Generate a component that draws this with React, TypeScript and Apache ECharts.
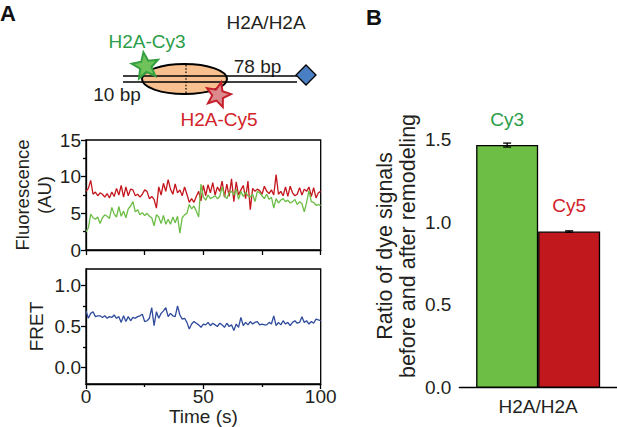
import React, { useEffect, useRef } from "react";
import * as echarts from "echarts";

// ---------- data ----------
const TIME_STEP = 1; // seconds per frame
const cy3Trace = [
  2.5, 3.0, 4.9, 4.4, 4.2, 4.5, 3.6, 4.4, 4.8, 4.6, 4.3, 5.8, 4.9, 4.5, 5.9, 4.6,
  5.3, 4.4, 5.6, 6.0, 6.6, 5.2, 5.5, 4.8, 5.1, 4.7, 5.0, 4.6, 4.4, 3.3, 4.8, 4.5,
  3.6, 4.7, 3.5, 4.2, 3.5, 4.5, 3.7, 4.6, 2.3, 4.4, 4.8, 5.0, 6.2, 5.6, 6.0, 5.3,
  4.5, 9.0, 7.2, 6.8, 7.5, 7.0, 7.2, 7.4, 7.0, 7.3, 8.6, 7.4, 7.0, 7.8, 8.0, 7.5,
  8.3, 6.9, 8.0, 7.3, 7.9, 7.4, 7.2, 7.6, 6.6, 8.0, 7.8, 7.4, 7.0, 7.6, 6.9, 7.2,
  5.7, 7.0, 6.4, 6.8, 7.0, 6.6, 6.8, 6.4, 6.6, 6.9, 6.2, 6.6, 6.3, 5.2, 6.5, 8.1,
  6.6, 6.5, 6.1, 6.2, 6.1,
];
const cy5Trace = [
  8.0, 8.4, 9.5, 7.6, 7.9, 7.4, 7.8, 7.6, 7.2, 7.7, 7.1, 7.9, 7.3, 8.4, 7.5, 8.8,
  7.2, 8.6, 7.4, 8.3, 8.2, 7.4, 7.6, 7.2, 7.6, 8.2, 8.0, 7.0, 7.3, 6.9, 5.7, 8.6,
  7.5, 9.1, 8.0, 9.6, 8.3, 7.6, 9.0, 7.8, 8.2, 7.4, 8.6, 7.6, 6.5, 7.0, 6.5, 7.3,
  8.0, 6.7, 8.8, 7.4, 8.9, 7.8, 9.2, 7.5, 8.6, 8.0, 9.4, 7.2, 9.0, 7.3, 9.7, 6.6,
  9.3, 7.5, 8.2, 8.8, 7.0, 9.4, 5.5, 8.4, 8.0, 8.3, 8.1, 7.6, 8.7, 8.0, 7.7, 8.2,
  7.5, 10.3, 7.6, 8.0, 7.4, 8.6, 7.3, 8.7, 7.8, 7.4, 7.6, 8.5, 7.5, 8.3, 8.0, 8.6,
  7.3, 8.5, 7.1, 7.8, 8.0,
];
const fretTrace = [
  0.69, 0.6, 0.66, 0.68, 0.62, 0.63, 0.63, 0.61, 0.63, 0.6, 0.62, 0.61, 0.64, 0.6,
  0.62, 0.55, 0.63, 0.56, 0.62, 0.57, 0.61, 0.6, 0.62, 0.63, 0.65, 0.56, 0.57, 0.6,
  0.73, 0.51, 0.68, 0.6, 0.66, 0.69, 0.73, 0.62, 0.66, 0.63, 0.62, 0.75, 0.64, 0.59,
  0.6, 0.55, 0.47, 0.53, 0.56, 0.54, 0.52, 0.49, 0.53, 0.52, 0.55, 0.51, 0.54, 0.52,
  0.5, 0.54, 0.52, 0.49, 0.54, 0.5, 0.52, 0.45, 0.53, 0.49, 0.61, 0.51, 0.55, 0.52,
  0.56, 0.53, 0.55, 0.56, 0.52, 0.53, 0.52, 0.52, 0.55, 0.53, 0.63, 0.51, 0.55, 0.52,
  0.57, 0.53, 0.55, 0.51, 0.55, 0.57, 0.54, 0.55, 0.62, 0.55, 0.57, 0.53, 0.56, 0.54,
  0.59, 0.58, 0.57,
];
const barCategories = ["H2A/H2A"];
const cy3Ratio = [1.465];
const cy3RatioErr = [0.012];
const cy5Ratio = [0.943];
const cy5RatioErr = [0.004];
const fluorTicks = [0, 5, 10, 15];
const fretTicks = [0, 0.5, 1.0];
const fretMinorTicks = [0.25, 0.75];
const ratioTicks = [0, 0.5, 1.0, 1.5];
const ratioMinorTicks = [0.25, 0.75, 1.25];

// ---------- style ----------
const FONT = "'Liberation Sans', Arial, sans-serif";
const TXT = "#231f20";
const GREEN_LINE = "#6cbd45";
const RED_LINE = "#c4161c";
const BLUE_LINE = "#2f4b9c";
const GREEN_BAR = "#6cbe45";
const RED_BAR = "#c1181e";
const GREEN_TXT = "#2a9d48";
const RED_TXT = "#d2232a";

function starPoints(cx: number, cy: number, R: number, r: number, rot: number) {
  const pts: number[][] = [];
  for (let i = 0; i < 10; i++) {
    const a = rot - Math.PI / 2 + (i * Math.PI) / 5;
    const rad = i % 2 === 0 ? R : r;
    pts.push([cx + rad * Math.cos(a), cy + rad * Math.sin(a)]);
  }
  return pts;
}

const axisLineStyle = { color: "#000", width: 1.3 };
const labelStyle = { color: TXT, fontSize: 19, fontFamily: FONT };

export default function App() {
  const ref = useRef<HTMLDivElement>(null);
  useEffect(() => {
    document.body.style.margin = "0";
    if (!ref.current) return;
    const chart = echarts.init(ref.current, null, { renderer: "svg" });
    const pair = (arr: number[]) => arr.map((v, i) => [i * TIME_STEP, v]);

    const errRender = (offset: number) => (params: any, api: any) => {
      const v = api.value(1);
      const e = api.value(2);
      const c = api.coord([api.value(0), v]);
      const hi = api.coord([api.value(0), v + e]);
      const lo = api.coord([api.value(0), v - e]);
      const x = c[0] + offset;
      const st = { stroke: "#000", lineWidth: 1.3 };
      return {
        type: "group",
        children: [
          { type: "line", shape: { x1: x, y1: hi[1], x2: x, y2: lo[1] }, style: st },
          { type: "line", shape: { x1: x - 4, y1: hi[1], x2: x + 4, y2: hi[1] }, style: st },
          { type: "line", shape: { x1: x - 4, y1: lo[1], x2: x + 4, y2: lo[1] }, style: st },
        ],
      };
    };

    const option: any = {
      animation: false,
      textStyle: { fontFamily: FONT },
      grid: [
        { left: 86, top: 140, width: 234.7, height: 110, show: true, borderColor: "#000", borderWidth: 1.3, backgroundColor: "transparent" },
        { left: 86, top: 269, width: 234.7, height: 115, show: true, borderColor: "#000", borderWidth: 1.3, backgroundColor: "transparent" },
        { left: 459.3, top: 122.7, width: 157.7, height: 265 },
      ],
      xAxis: [
        {
          gridIndex: 0, type: "value", min: 0, max: 100, interval: 50,
          axisLine: { onZero: false, lineStyle: axisLineStyle },
          axisTick: { length: 5, lineStyle: axisLineStyle },
          minorTick: { show: true, splitNumber: 2, length: 5, lineStyle: axisLineStyle },
          axisLabel: { show: false }, splitLine: { show: false },
        },
        {
          gridIndex: 1, type: "value", min: 0, max: 100, interval: 50,
          axisLine: { onZero: false, lineStyle: axisLineStyle },
          axisTick: { length: 5, lineStyle: axisLineStyle },
          minorTick: { show: true, splitNumber: 2, length: 3, lineStyle: axisLineStyle },
          axisLabel: { ...labelStyle, margin: 3 },
          splitLine: { show: false },
          name: "Time (s)", nameLocation: "middle", nameGap: 11,
          nameTextStyle: { ...labelStyle },
        },
        {
          gridIndex: 2, type: "category", data: barCategories,
          axisLine: { onZero: false, lineStyle: axisLineStyle },
          axisTick: { alignWithLabel: true, length: 5, lineStyle: axisLineStyle },
          axisLabel: { ...labelStyle, margin: 9 },
        },
      ],
      yAxis: [
        {
          gridIndex: 0, type: "value", min: 0, max: 15, interval: 5, position: "left",
          axisLine: { onZero: false, lineStyle: axisLineStyle },
          axisTick: { length: 5, lineStyle: axisLineStyle, customValues: fluorTicks },
          minorTick: { show: true, splitNumber: 2, length: 3, lineStyle: axisLineStyle },
          axisLabel: { ...labelStyle, margin: 5, customValues: fluorTicks },
          splitLine: { show: false },
          name: "Fluorescence\n(AU)", nameLocation: "middle", nameGap: 29,
          nameTextStyle: { ...labelStyle, fontSize: 18.5, lineHeight: 22 },
        },
        {
          gridIndex: 1, type: "value", min: -0.2, max: 1.2, position: "left",
          axisLine: { onZero: false, lineStyle: axisLineStyle },
          axisTick: { length: 5, lineStyle: axisLineStyle, customValues: fretTicks },
          axisLabel: { ...labelStyle, margin: 5, customValues: fretTicks, formatter: (v: number) => v.toFixed(1) },
          splitLine: { show: false },
          name: "FRET", nameLocation: "middle", nameGap: 40,
          nameTextStyle: { ...labelStyle },
        },
        {
          gridIndex: 1, type: "value", min: -0.2, max: 1.2, position: "left",
          axisLine: { show: false, onZero: false },
          axisTick: { length: 3, lineStyle: axisLineStyle, customValues: fretMinorTicks },
          axisLabel: { show: false }, splitLine: { show: false },
        },
        {
          gridIndex: 2, type: "value", min: 0, max: 1.6, position: "left",
          axisLine: { onZero: false, lineStyle: axisLineStyle },
          axisTick: { length: 5, lineStyle: axisLineStyle, customValues: ratioTicks },
          axisLabel: { ...labelStyle, margin: 8, customValues: ratioTicks, formatter: (v: number) => v.toFixed(1) },
          splitLine: { show: false },
        },
        {
          gridIndex: 2, type: "value", min: 0, max: 1.6, position: "left",
          axisLine: { show: false, onZero: false },
          axisTick: { length: 3, lineStyle: axisLineStyle, customValues: ratioMinorTicks },
          axisLabel: { show: false }, splitLine: { show: false },
        },
      ],
      series: [
        { type: "line", xAxisIndex: 0, yAxisIndex: 0, data: pair(cy5Trace), showSymbol: false, lineStyle: { color: RED_LINE, width: 1.3 }, z: 2 },
        { type: "line", xAxisIndex: 0, yAxisIndex: 0, data: pair(cy3Trace), showSymbol: false, lineStyle: { color: GREEN_LINE, width: 1.3 }, z: 3 },
        { type: "line", xAxisIndex: 1, yAxisIndex: 1, data: pair(fretTrace), showSymbol: false, lineStyle: { color: BLUE_LINE, width: 1.3 } },
        {
          type: "bar", xAxisIndex: 2, yAxisIndex: 3, data: cy3Ratio, barWidth: 62, barGap: "0%",
          itemStyle: { color: GREEN_BAR, borderColor: "#000", borderWidth: 1.3 },
          label: { show: true, position: "top", distance: 16, formatter: "Cy3", color: GREEN_TXT, fontSize: 19, fontFamily: FONT },
        },
        {
          type: "bar", xAxisIndex: 2, yAxisIndex: 3, data: cy5Ratio, barWidth: 62, barGap: "0%",
          itemStyle: { color: RED_BAR, borderColor: "#000", borderWidth: 1.3 },
          label: { show: true, position: "top", distance: 17, formatter: "Cy5", color: RED_TXT, fontSize: 19, fontFamily: FONT },
        },
        {
          type: "custom", xAxisIndex: 2, yAxisIndex: 3, renderItem: errRender(-31), z: 5,
          data: cy3Ratio.map((v, i) => [i, v, cy3RatioErr[i]]),
        },
        {
          type: "custom", xAxisIndex: 2, yAxisIndex: 3, renderItem: errRender(31), z: 5,
          data: cy5Ratio.map((v, i) => [i, v, cy5RatioErr[i]]),
        },
      ],
      graphic: [
        { type: "text", x: 8, y: 13, style: { text: "A", fontSize: 22, fontWeight: "bold", fontFamily: FONT, fill: "#111", align: "center", verticalAlign: "middle" } },
        { type: "text", x: 374, y: 17, style: { text: "B", fontSize: 22, fontWeight: "bold", fontFamily: FONT, fill: "#111", align: "center", verticalAlign: "middle" } },
        { type: "text", x: 266, y: 22, style: { text: "H2A/H2A", fontSize: 19, fontFamily: FONT, fill: TXT, align: "center", verticalAlign: "middle" } },
        { type: "text", x: 147, y: 41, style: { text: "H2A-Cy3", fontSize: 19, fontFamily: FONT, fill: GREEN_TXT, align: "center", verticalAlign: "middle" } },
        { type: "text", x: 257.5, y: 66, style: { text: "78 bp", fontSize: 19, fontFamily: FONT, fill: TXT, align: "center", verticalAlign: "middle" } },
        { type: "text", x: 117, y: 94, style: { text: "10 bp", fontSize: 19, fontFamily: FONT, fill: TXT, align: "center", verticalAlign: "middle" } },
        { type: "text", x: 219, y: 119, style: { text: "H2A-Cy5", fontSize: 19, fontFamily: FONT, fill: RED_TXT, align: "center", verticalAlign: "middle" } },
        {
          type: "text", x: 396.5, y: 246, rotation: Math.PI / 2,
          style: { text: "Ratio of dye signals\nbefore and after remodeling", fontSize: 21.5, lineHeight: 23.5, fontFamily: FONT, fill: TXT, align: "center", verticalAlign: "middle" },
        },
        // nucleosome
        { type: "ellipse", shape: { cx: 184.5, cy: 79, rx: 42.5, ry: 15 }, style: { fill: "#f8c08f", stroke: "#000", lineWidth: 2 }, z: 1 },
        { type: "line", shape: { x1: 123, y1: 76, x2: 297, y2: 76 }, style: { stroke: "#000", lineWidth: 1.3 }, z: 2 },
        { type: "line", shape: { x1: 123, y1: 82, x2: 297, y2: 82 }, style: { stroke: "#000", lineWidth: 1.3 }, z: 2 },
        { type: "line", shape: { x1: 186, y1: 65, x2: 186, y2: 93 }, style: { stroke: "#000", lineWidth: 1.2, lineDash: [1.5, 1.8] }, z: 2 },
        { type: "polygon", shape: { points: [[306, 65], [316, 75], [306, 85], [296, 75]] }, style: { fill: "#4a7fc3", stroke: "#000", lineWidth: 1.3 }, z: 3 },
        { type: "polygon", shape: { points: starPoints(145.5, 66, 14, 6, -0.15) }, style: { fill: "#70c25a", stroke: "#34a040", lineWidth: 2 }, z: 4 },
        { type: "polygon", shape: { points: starPoints(218, 95, 13, 5.8, 0.25) }, style: { fill: "#dc8a8e", stroke: "#c41f2a", lineWidth: 2 }, z: 4 },
      ],
    };
    chart.setOption(option);
    return () => chart.dispose();
  }, []);
  return <div ref={ref} style={{ width: 617, height: 427 }} />;
}
